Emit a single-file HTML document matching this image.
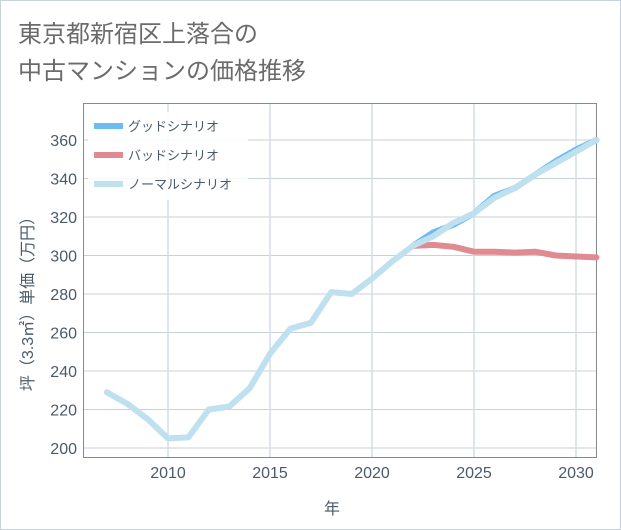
<!DOCTYPE html>
<html><head><meta charset="utf-8"><style>
body{margin:0;background:#fff;}
svg{display:block;font-family:"Liberation Sans","Noto Sans CJK JP",sans-serif;}
</style></head><body>
<svg width="621" height="530">
<rect x="0.5" y="0.5" width="620" height="529" fill="#fff" stroke="#c8d2dc"/>
<text x="18" y="42" font-size="24" fill="#6b6b6b">東京都新宿区上落合の</text>
<text x="18" y="79" font-size="24" fill="#6b6b6b">中古マンションの価格推移</text>
<g id="grid"></g>
<rect x="83.5" y="103.5" width="513" height="354" fill="none" stroke="#888"/>
<g id="series"></g>
<g id="axes"></g>
<text x="332" y="514" font-size="16" fill="#4a5a6a" text-anchor="middle">年</text>
<text transform="translate(33,300) rotate(-90)" font-size="16" fill="#4a5a6a" text-anchor="middle">坪（3.3㎡）単価（万円）</text>
<g id="legend"></g>
</svg>
<script>
const years=[2007,2008,2009,2010,2011,2012,2013,2014,2015,2016,2017,2018,2019,2020,2021,2022,2023,2024,2025,2026,2027,2028,2029,2030,2031];
const normal=[229,223,215,205,205.5,220,221.5,231,249,262,265,281,280,288,297,305,310,317,322,330,335,342,348,354,360];
const goodYears=[2022,2023,2024,2025,2026,2027,2028,2029,2030,2031];
const good=[305,312,316,322,331,335,342,349,355,360];
const bad=[305,305.5,304.5,302,302,301.5,302,300,299.5,299];
const xTicks=[2010,2015,2020,2025,2030];
const yTicks=[200,220,240,260,280,300,320,340,360];
const NS="http://www.w3.org/2000/svg";
const X=y=>168+(y-2010)*20.4;
const Y=v=>448-(v-200)*1.925;
function mk(t,a,p){const e=document.createElementNS(NS,t);for(const k in a)e.setAttribute(k,a[k]);p.appendChild(e);return e;}
const grid=document.getElementById('grid'),axes=document.getElementById('axes'),ser=document.getElementById('series'),leg=document.getElementById('legend');
yTicks.forEach(v=>{
 const l=mk('line',{x1:83,x2:597,y1:Y(v),y2:Y(v),stroke:'#c8d0d8','stroke-width':1},grid);
 
 
 const t=mk('text',{x:77,y:Y(v)+6,'font-size':16,fill:'#4a5a6a','text-anchor':'end'},axes);
 t.textContent=v;
 
 
});
xTicks.forEach(v=>{
 const l=mk('line',{x1:X(v),x2:X(v),y1:103,y2:457,stroke:'#d0dde8','stroke-width':1.5},grid);
 
 
 const t=mk('text',{x:X(v),y:478,'font-size':16,fill:'#4a5a6a','text-anchor':'middle'},axes);
 t.textContent=v;
 
 
});
function line(xs,vs,color,name){
 const d=xs.map((y,i)=>(i?'L':'M')+X(y).toFixed(1)+','+Y(vs[i]).toFixed(1)).join('');
 const p=mk('path',{d:d,fill:'none',stroke:color,'stroke-width':6,'stroke-linejoin':'round','stroke-linecap':'round'},ser);
 
 
}
line(goodYears,good,'#6bbcf0','good-scenario-line');
line(goodYears,bad,'#e08a92','bad-scenario-line');
line(years,normal,'#bfe0ee','normal-scenario-line');
mk('rect',{x:88,y:112,width:160,height:88,fill:'#fff','fill-opacity':0.85},leg);
[['グッドシナリオ','#6bbcf0',126],['バッドシナリオ','#e08a92',155],['ノーマルシナリオ','#bfe0ee',184]].forEach(([n,c,y],i)=>{
 const g=mk('g',{},leg);
 
 
 mk('rect',{x:94,y:y-3,width:29,height:6,fill:c},g);
 const t=mk('text',{x:128,y:y+5,'font-size':13,fill:'#4a5a6a'},g);
 t.textContent=n;
});
</script>
</body></html>
